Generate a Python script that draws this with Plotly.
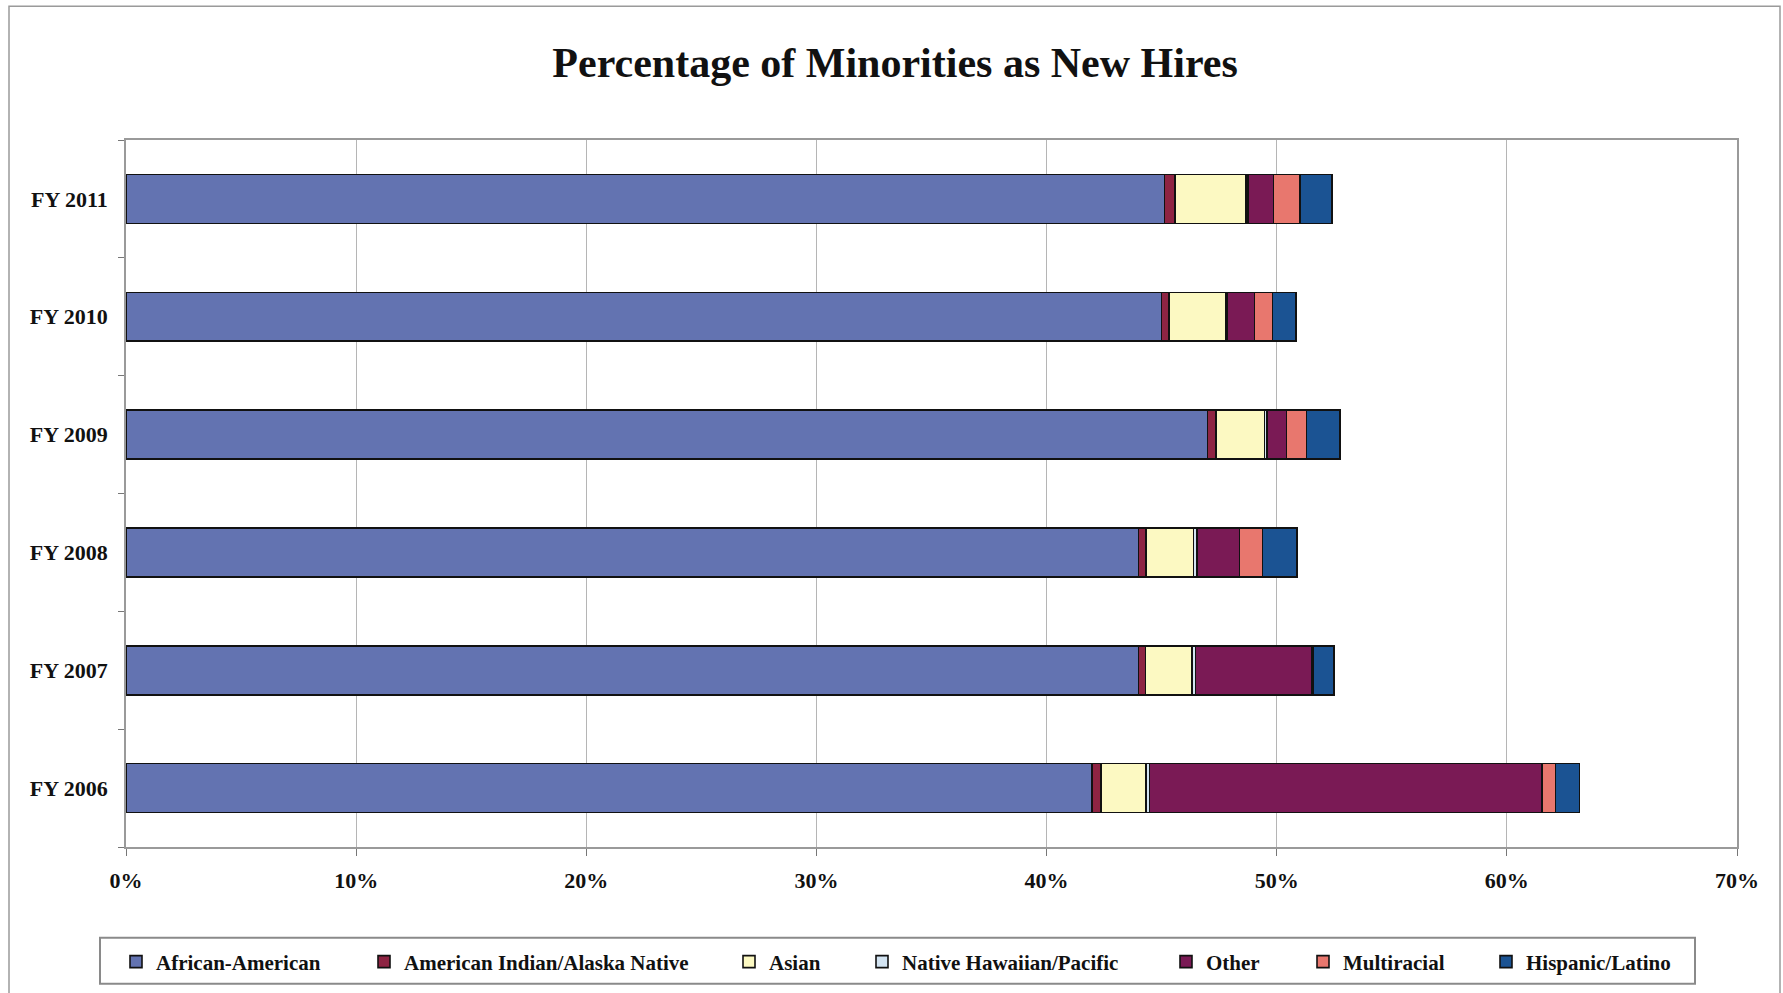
import plotly.graph_objects as go

# Fiscal years (bottom to top) and share of new hires by group, in percent
years = ["FY 2006", "FY 2007", "FY 2008", "FY 2009", "FY 2010", "FY 2011"]

african_american = [41.97, 44.00, 44.00, 47.00, 45.00, 45.13]
american_indian = [0.39, 0.30, 0.32, 0.37, 0.33, 0.46]
asian = [1.97, 2.03, 2.07, 2.10, 2.46, 3.07]
native_hawaiian = [0.15, 0.14, 0.15, 0.10, 0.05, 0.10]
other = [17.05, 5.07, 1.85, 0.85, 1.20, 1.10]
multiracial = [0.58, 0.05, 1.00, 0.88, 0.78, 1.15]
hispanic = [1.04, 0.90, 1.50, 1.44, 1.03, 1.38]

groups = [
    ("African-American", african_american, "#6373B1"),
    ("American Indian/Alaska Native", american_indian, "#8E2443"),
    ("Asian", asian, "#FCF9C2"),
    ("Native Hawaiian/Pacific", native_hawaiian, "#D3E4F2"),
    ("Other", other, "#7A1A55"),
    ("Multiracial", multiracial, "#E8776E"),
    ("Hispanic/Latino", hispanic, "#1B5393"),
]

W, H = 1783, 993
L, R, T, B = 126, 46, 140, 145
pw, ph = W - L - R, H - T - B

SERIF = "Liberation Serif, Times New Roman, serif"

# Left edge (px) of each legend entry's swatch
legend_px = [130, 378, 743, 876, 1180, 1317, 1500]
legend_row_y = 962

fig = go.Figure()
layout_legends = {}
for i, (name, vals, color) in enumerate(groups):
    key = "legend" if i == 0 else f"legend{i + 1}"
    fig.add_trace(go.Bar(
        y=years, x=vals, name=f"<b>{name}</b>", orientation="h",
        marker=dict(color=color, line=dict(color="#111111", width=1.6)),
        legend=key,
    ))
    layout_legends[key] = dict(
        x=(legend_px[i] - 14 - L) / pw,
        y=(H - B - legend_row_y) / ph,
        xanchor="left", yanchor="middle",
        orientation="h",
        bgcolor="rgba(0,0,0,0)",
        font=dict(family=SERIF, size=21, color="#111111"),
        itemclick=False, itemdoubleclick=False,
    )

# Chart frame and legend box
shapes = [
    dict(type="rect", xref="paper", yref="paper",
         x0=(9 - L) / pw, x1=(1780 - L) / pw,
         y0=(H - B - 1000) / ph, y1=(H - B - 6) / ph,
         line=dict(color="#9a9a9a", width=1.5), fillcolor="rgba(0,0,0,0)", layer="below"),
    dict(type="rect", xref="paper", yref="paper",
         x0=(100 - L) / pw, x1=(1695 - L) / pw,
         y0=(H - B - 985) / ph, y1=(H - B - 939) / ph,
         line=dict(color="#8a8a8a", width=2), fillcolor="rgba(0,0,0,0)", layer="below"),
]

fig.update_layout(
    width=W, height=H,
    margin=dict(l=L, r=R, t=T, b=B),
    paper_bgcolor="white", plot_bgcolor="white",
    barmode="stack", bargap=0.585,
    title=dict(
        text="<b>Percentage of Minorities as New Hires</b>",
        x=0.502, xref="container", xanchor="center",
        y=1 - 62 / H, yref="container", yanchor="middle",
        font=dict(family=SERIF, size=42, color="#111111"),
    ),
    shapes=shapes,
    showlegend=True,
    **layout_legends,
)

fig.update_xaxes(
    range=[0, 70], dtick=10, ticksuffix="%",
    showgrid=True, gridcolor="#b5b5b5", gridwidth=1,
    showline=True, linecolor="#9a9a9a", linewidth=1.5, mirror=True,
    ticks="outside", ticklen=7, tickcolor="#777777", tickwidth=1,
    tickfont=dict(family=SERIF, size=22, color="#111111"),
    ticklabelstandoff=6,
    zeroline=False, fixedrange=True,
    tickprefix="<b>",
)
fig.update_yaxes(
    type="category", categoryorder="array", categoryarray=years,
    showgrid=False,
    showline=True, linecolor="#9a9a9a", linewidth=1.5, mirror=True,
    ticks="outside", ticklen=6, tickcolor="#777777", tickson="boundaries",
    tickfont=dict(family=SERIF, size=22, color="#111111"),
    ticklabelstandoff=12,
    tickprefix="<b>", ticksuffix="</b>",
    fixedrange=True,
)

fig.write_html("out.html")
